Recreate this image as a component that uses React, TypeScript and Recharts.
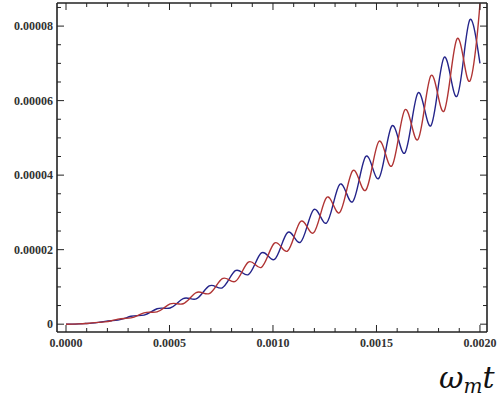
import React from 'react';
import { LineChart, Line, XAxis, YAxis } from 'recharts';

// omega_m t sample positions (quarter-period spacing)
const tValues = [
  0, 0.0305e-3, 0.062e-3, 0.0935e-3, 0.125e-3, 0.1565e-3, 0.188e-3, 0.2195e-3, 0.251e-3, 0.2825e-3,
  0.314e-3, 0.3455e-3, 0.377e-3, 0.4085e-3, 0.44e-3, 0.4715e-3, 0.503e-3, 0.5345e-3, 0.566e-3, 0.5975e-3,
  0.629e-3, 0.6605e-3, 0.692e-3, 0.7235e-3, 0.755e-3, 0.7865e-3, 0.818e-3, 0.8495e-3, 0.881e-3, 0.9125e-3,
  0.944e-3, 0.9755e-3, 1.007e-3, 1.0385e-3, 1.07e-3, 1.1015e-3, 1.133e-3, 1.1645e-3, 1.196e-3, 1.2275e-3,
  1.259e-3, 1.2905e-3, 1.322e-3, 1.3535e-3, 1.385e-3, 1.4165e-3, 1.448e-3, 1.4795e-3, 1.511e-3, 1.5425e-3,
  1.574e-3, 1.6055e-3, 1.637e-3, 1.6685e-3, 1.7e-3, 1.7315e-3, 1.763e-3, 1.7945e-3, 1.826e-3, 1.8575e-3,
  1.889e-3, 1.9205e-3, 1.952e-3, 1.9835e-3, 2.0e-3,
];

// blue curve
const blueValues = [
  0, 0.002e-5, 0.008e-5, 0.017e-5, 0.027e-5, 0.047e-5, 0.076e-5, 0.093e-5, 0.108e-5, 0.154e-5,
  0.212e-5, 0.23e-5, 0.244e-5, 0.322e-5, 0.415e-5, 0.429e-5, 0.434e-5, 0.551e-5, 0.688e-5, 0.689e-5,
  0.678e-5, 0.842e-5, 1.028e-5, 1.01e-5, 0.977e-5, 1.194e-5, 1.436e-5, 1.393e-5, 1.33e-5, 1.607e-5,
  1.912e-5, 1.837e-5, 1.738e-5, 2.081e-5, 2.457e-5, 2.342e-5, 2.2e-5, 2.617e-5, 3.07e-5, 2.908e-5,
  2.717e-5, 3.214e-5, 3.751e-5, 3.536e-5, 3.288e-5, 3.873e-5, 4.5e-5, 4.225e-5, 3.913e-5, 4.592e-5,
  5.317e-5, 4.975e-5, 4.593e-5, 5.373e-5, 6.202e-5, 5.786e-5, 5.327e-5, 6.215e-5, 7.155e-5, 6.659e-5,
  6.116e-5, 7.118e-5, 8.177e-5, 7.593e-5, 7.0e-5,
];

// red curve
const redValues = [
  0, 0.002e-5, 0.007e-5, 0.017e-5, 0.034e-5, 0.047e-5, 0.061e-5, 0.093e-5, 0.135e-5, 0.154e-5,
  0.169e-5, 0.23e-5, 0.305e-5, 0.322e-5, 0.332e-5, 0.429e-5, 0.543e-5, 0.551e-5, 0.549e-5, 0.689e-5,
  0.849e-5, 0.842e-5, 0.821e-5, 1.01e-5, 1.223e-5, 1.194e-5, 1.147e-5, 1.393e-5, 1.666e-5, 1.607e-5,
  1.527e-5, 1.837e-5, 2.176e-5, 2.081e-5, 1.962e-5, 2.342e-5, 2.755e-5, 2.617e-5, 2.452e-5, 2.908e-5,
  3.402e-5, 3.214e-5, 2.996e-5, 3.536e-5, 4.116e-5, 3.873e-5, 3.594e-5, 4.225e-5, 4.9e-5, 4.592e-5,
  4.246e-5, 4.975e-5, 5.751e-5, 5.373e-5, 4.953e-5, 5.786e-5, 6.67e-5, 6.215e-5, 5.715e-5, 6.659e-5,
  7.658e-5, 7.118e-5, 6.531e-5, 7.593e-5, 8.6e-5,
];

// frame ticks (major + minor)
const xTicks = [
  0, 0.0001, 0.0002, 0.0003, 0.0004, 0.0005, 0.0006, 0.0007, 0.0008, 0.0009, 0.001,
  0.0011, 0.0012, 0.0013, 0.0014, 0.0015, 0.0016, 0.0017, 0.0018, 0.0019, 0.002,
];
const yTicks = [
  0, 0.000005, 0.00001, 0.000015, 0.00002, 0.000025, 0.00003, 0.000035, 0.00004,
  0.000045, 0.00005, 0.000055, 0.00006, 0.000065, 0.00007, 0.000075, 0.00008, 0.000085,
];

const data = tValues.map((t, i) => ({ t, blue: blueValues[i], red: redValues[i] }));

const isMajor = (v: number, step: number) => Math.abs(v / step - Math.round(v / step)) < 1e-6;

const labelStyle = {
  fontFamily: '"Liberation Serif", serif',
  fontSize: 12,
  fontWeight: 'bold' as const,
  fill: '#333',
};

const BottomTick = ({ x, y, payload }: any) => {
  const major = isMajor(payload.value, 0.0005);
  return (
    <g>
      <line x1={x} y1={y} x2={x} y2={y - (major ? 7 : 4)} stroke="#222" />
      {major && (
        <text x={x} y={y + 15} textAnchor="middle" {...labelStyle}>
          {payload.value.toFixed(4)}
        </text>
      )}
    </g>
  );
};

const TopTick = ({ x, y, payload }: any) => {
  const major = isMajor(payload.value, 0.0005);
  return <line x1={x} y1={y} x2={x} y2={y + (major ? 7 : 4)} stroke="#222" />;
};

const LeftTick = ({ x, y, payload }: any) => {
  const major = isMajor(payload.value, 0.00002);
  return (
    <g>
      <line x1={x} y1={y} x2={x + (major ? 7 : 4)} y2={y} stroke="#222" />
      {major && (
        <text x={x - 4} y={y + 4} textAnchor="end" {...labelStyle}>
          {payload.value === 0 ? '0' : payload.value.toFixed(5)}
        </text>
      )}
    </g>
  );
};

const RightTick = ({ x, y, payload }: any) => {
  const major = isMajor(payload.value, 0.00002);
  return <line x1={x} y1={y} x2={x - (major ? 7 : 4)} y2={y} stroke="#222" />;
};

const xDomain = [-0.0000435, 0.002034];
const yDomain = [-0.0000021, 0.0000862];
const frame = { stroke: '#222', strokeWidth: 1.6 };

export default function App() {
  return (
    <div style={{ position: 'absolute', left: 0, top: 0, width: 501, height: 405, background: '#fff' }}>
      <LineChart width={501} height={405} data={data} margin={{ top: 2, right: 13, left: 0, bottom: 0 }}>
        <XAxis
          dataKey="t"
          type="number"
          domain={xDomain}
          allowDataOverflow
          ticks={xTicks}
          interval={0}
          height={73}
          tickLine={false}
          tickSize={0}
          tickMargin={0}
          axisLine={frame}
          tick={(p: any) => <BottomTick {...p} />}
        />
        <XAxis
          xAxisId="top"
          orientation="top"
          dataKey="t"
          type="number"
          domain={xDomain}
          allowDataOverflow
          ticks={xTicks}
          interval={0}
          height={1}
          tickLine={false}
          tickSize={0}
          tickMargin={0}
          axisLine={frame}
          tick={(p: any) => <TopTick {...p} />}
        />
        <YAxis
          type="number"
          domain={yDomain}
          allowDataOverflow
          ticks={yTicks}
          interval={0}
          width={57}
          tickLine={false}
          tickSize={0}
          tickMargin={0}
          axisLine={frame}
          tick={(p: any) => <LeftTick {...p} />}
        />
        <YAxis
          yAxisId="right"
          orientation="right"
          type="number"
          domain={yDomain}
          allowDataOverflow
          ticks={yTicks}
          interval={0}
          width={1}
          tickLine={false}
          tickSize={0}
          tickMargin={0}
          axisLine={frame}
          tick={(p: any) => <RightTick {...p} />}
        />
        <Line type="natural" dataKey="blue" stroke="#24248a" strokeWidth={1.4} dot={false} isAnimationActive={false} />
        <Line
          type="natural"
          dataKey="red"
          xAxisId="top"
          yAxisId="right"
          stroke="#b03434"
          strokeWidth={1.4}
          dot={false}
          isAnimationActive={false}
        />
      </LineChart>
      <div
        style={{
          position: 'absolute',
          left: 439,
          top: 361,
          fontFamily: '"DejaVu Serif", serif',
          fontStyle: 'italic',
          fontSize: 30,
          lineHeight: '34px',
          color: '#111',
          whiteSpace: 'nowrap',
        }}
      >
        ω<span style={{ fontSize: 20, position: 'relative', top: 5 }}>m</span>t
      </div>
    </div>
  );
}
